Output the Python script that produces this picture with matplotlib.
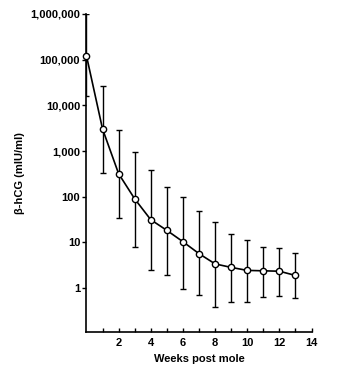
import matplotlib.pyplot as plt
from matplotlib.ticker import FixedLocator, NullFormatter

plt.rcParams['font.family'] = ['Liberation Sans', 'DejaVu Sans']
plt.rcParams['font.weight'] = 'bold'

weeks = [0, 1, 2, 3, 4, 5, 6, 7, 8, 9, 10, 11, 12, 13]
hcg_mean = [122000, 3050, 320, 90, 31.5, 18.4, 10.4, 5.7, 3.4, 2.85, 2.45, 2.4, 2.35, 1.9]
hcg_upper = [1000000, 26000, 2940, 940, 392, 164, 99, 48, 28.5, 15.3, 11.3, 8.1, 7.4, 5.8]
hcg_lower = [15700, 330, 35, 7.8, 2.5, 1.97, 0.98, 0.71, 0.39, 0.51, 0.51, 0.65, 0.66, 0.6]

y_ticks = [1, 10, 100, 1000, 10000, 100000, 1000000]
y_labels = ["1", "10", "100", "1,000", "10,000", "100,000", "1,000,000"]
x_ticks = [2, 4, 6, 8, 10, 12, 14]

err_lo = [m - l for m, l in zip(hcg_mean, hcg_lower)]
err_hi = [u - m for m, u in zip(hcg_mean, hcg_upper)]

fig = plt.figure(figsize=(3.39, 3.76), dpi=100)
ax = fig.add_axes([0.255, 0.117, 0.664, 0.846])

ax.errorbar(weeks, hcg_mean, yerr=[err_lo, err_hi], fmt='none', ecolor='black',
            elinewidth=1.0, capsize=2, capthick=1.0, zorder=2)
ax.plot(weeks, hcg_mean, color='black', lw=1.2, marker='o', ms=4.5,
        mfc='white', mec='black', mew=1.0, zorder=3, clip_on=False)

ax.set_yscale('log')
ax.set_ylim(0.11, 1000000)
ax.set_xlim(0, 14)
ax.yaxis.set_major_locator(FixedLocator(y_ticks))
ax.set_yticklabels(y_labels)
ax.yaxis.set_minor_locator(FixedLocator([]))
ax.set_xticks(x_ticks)
ax.set_xticklabels([str(t) for t in x_ticks])
ax.xaxis.set_minor_locator(FixedLocator([1, 3, 5, 7, 9, 11, 13]))
ax.xaxis.set_minor_formatter(NullFormatter())

ax.tick_params(axis='y', direction='out', length=3, width=1, labelsize=8, pad=1.5)
ax.tick_params(axis='x', which='both', direction='in', length=3, width=1, labelsize=8, pad=4.5)

for s in ['top', 'right']:
    ax.spines[s].set_visible(False)
for s in ['left', 'bottom']:
    ax.spines[s].set_linewidth(1.2)

ax.set_ylabel('β-hCG (mIU/ml)', fontsize=8, fontweight='bold', labelpad=4)
ax.set_xlabel('Weeks post mole', fontsize=8, fontweight='bold', labelpad=4)

fig.savefig('out.png', dpi=100)
